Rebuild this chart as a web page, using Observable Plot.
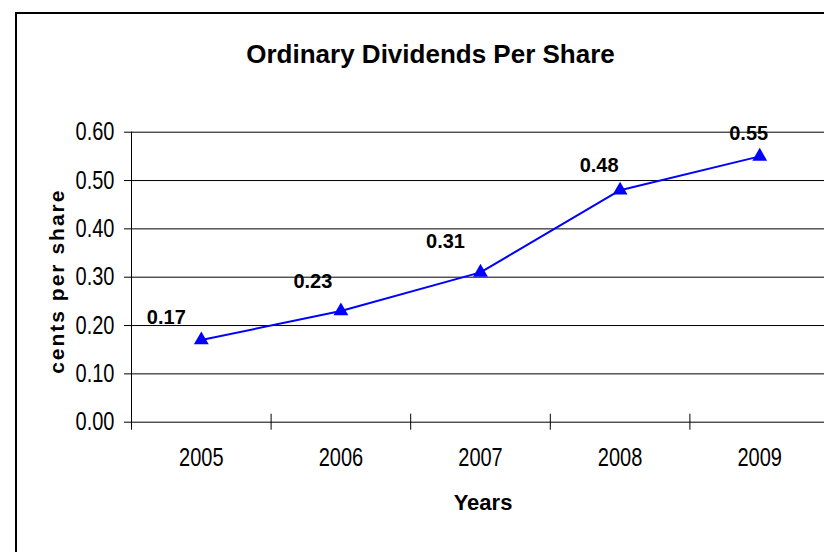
<!DOCTYPE html>
<html>
<head>
<meta charset="utf-8">
<script src="https://cdn.jsdelivr.net/npm/d3@7"></script>
<script src="https://cdn.jsdelivr.net/npm/@observablehq/plot@0.6"></script>
<style>
  html, body { margin: 0; padding: 0; background: #fff; overflow: hidden; }
  #wrap { position: relative; width: 824px; height: 552px; overflow: hidden; }
  #frame { position: absolute; left: 15px; top: 12px; width: 900px; height: 700px;
           border: 2px solid #000; pointer-events: none; box-sizing: border-box; }
  svg { font-family: "Liberation Sans", Arial, sans-serif; }
</style>
</head>
<body>
<div id="wrap"><div id="frame"></div></div>
<script>
const title = "Ordinary Dividends Per Share";
const xLabel = "Years";
const yLabel = "cents per share";
const years = [2005, 2006, 2007, 2008, 2009];
const dividends = [0.17, 0.23, 0.31, 0.48, 0.55];
const yTicks = [0, 0.1, 0.2, 0.3, 0.4, 0.5, 0.6];
// manual label nudges (pixels) as in the original
const labelOffsets = [[-35, -22], [-28, -29], [-35, -31], [-21, -25], [-11, -23]];

const data = years.map((y, i) => ({year: y, value: dividends[i]}));
const bounds = years.map(y => y - 0.5).concat([years[years.length - 1] + 0.5]);
const fmt = d3.format(".2f");

const labelMarks = data.map((d, i) => Plot.text([d], {
  x: "year", y: "value", text: d => fmt(d.value),
  dx: labelOffsets[i][0], dy: labelOffsets[i][1],
  fontSize: 20, fontWeight: "bold", fill: "#000"
}));

const chart = Plot.plot({
  width: 824,
  height: 552,
  marginLeft: 131,
  marginRight: 0,
  marginTop: 131.7,
  marginBottom: 130.3,
  style: {background: "transparent", overflow: "visible"},
  x: {type: "linear", domain: [bounds[0], bounds[bounds.length - 1]], range: [131, 829], axis: null},
  y: {domain: [0, 0.6], axis: null},
  marks: [
    Plot.ruleY(yTicks, {stroke: "#000", strokeWidth: 1}),
    Plot.ruleY(yTicks, {x1: bounds[0], x2: bounds[0], insetLeft: -7, stroke: "#000"}),
    Plot.ruleX([bounds[0]], {y1: 0, y2: 0.6, stroke: "#000"}),
    Plot.ruleX(bounds, {y1: 0, y2: 0, insetTop: -8, insetBottom: -8, stroke: "#000"}),
    Plot.text(yTicks, {x: bounds[0], y: d => d, text: d => fmt(d), textAnchor: "end", dx: -17,
      fontSize: 25, fill: "#000"}),
    Plot.text(years, {x: d => d, y: () => 0, text: d => String(d), dy: 36,
      fontSize: 25, fill: "#000"}),
    Plot.line(data, {x: "year", y: "value", stroke: "#0000ff", strokeWidth: 2}),
    Plot.dot(data, {x: "year", y: "value", symbol: "triangle", r: 5.5, fill: "#0000ff", stroke: "none"}),
    ...labelMarks,
    Plot.text([title], {frameAnchor: "top", lineAnchor: "middle", dy: -78, dx: -47.5, fontSize: 26,
      fontWeight: "bold", fill: "#000"}),
    Plot.text([xLabel], {frameAnchor: "bottom", lineAnchor: "middle", dy: 81, dx: 5, fontSize: 22,
      fontWeight: "bold", fill: "#000"}),
    Plot.text([yLabel], {frameAnchor: "left", textAnchor: "middle", rotate: -90, dx: -74.7, dy: 4,
      fontSize: 21, fontWeight: "bold", fill: "#000"})
  ]
});

const wrap = document.getElementById("wrap");
wrap.insertBefore(chart, wrap.firstChild);

// narrow tick-label typeface of the original
chart.querySelectorAll('g[font-size="25"] text').forEach(t => {
  const tr = t.getAttribute("transform") || "";
  t.setAttribute("transform", (tr + " scale(0.8,1)").trim());
});
// letter-spaced axis title
chart.querySelectorAll('g[font-size="21"] text').forEach(t => {
  t.style.letterSpacing = "2px";
});
</script>
</body>
</html>
